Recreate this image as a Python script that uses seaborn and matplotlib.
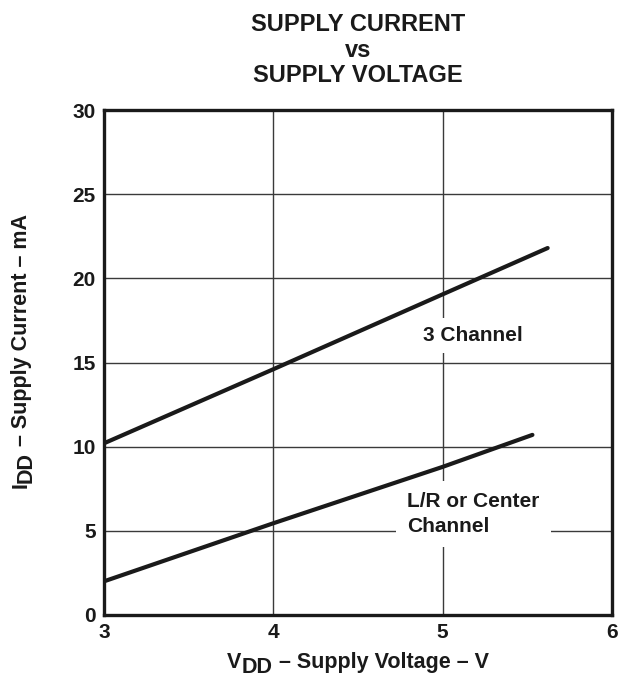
import matplotlib
matplotlib.use("Agg")
import matplotlib.pyplot as plt
from matplotlib.transforms import IdentityTransform
import pandas as pd
import seaborn as sns

# Supply current vs supply voltage for the two channel configurations
voltage_3ch = [3.0, 4.0, 5.0, 5.62]
current_3ch = [10.2, 14.6, 19.05, 21.8]
voltage_lr = [3.0, 4.0, 5.0, 5.53]
current_lr = [2.0, 5.45, 8.8, 10.7]

x_ticks = [3, 4, 5, 6]
y_ticks = [0, 5, 10, 15, 20, 25, 30]

INK = "#1a1a1a"

sns.set_theme(style="white")
plt.rcParams["font.family"] = ["Liberation Sans", "DejaVu Sans"]
plt.rcParams["font.weight"] = "bold"

df = pd.concat([
    pd.DataFrame({"V": voltage_3ch, "I": current_3ch, "config": "3 Channel"}),
    pd.DataFrame({"V": voltage_lr, "I": current_lr, "config": "L/R or Center Channel"}),
])

W, H = 621, 683
fig = plt.figure(figsize=(W / 100, H / 100), dpi=100)
ax = fig.add_axes([104 / W, 1 - 615 / H, (612 - 104) / W, (615 - 110) / H])

sns.lineplot(data=df, x="V", y="I", hue="config", palette=[INK, INK],
             linewidth=3.0, legend=False, ax=ax, zorder=4, estimator=None, sort=False)

ax.set_xlim(3, 6)
ax.set_ylim(0, 30)
ax.set_xticks(x_ticks)
ax.set_yticks(y_ticks)
ax.tick_params(axis="both", length=0, labelsize=15, pad=6, colors=INK)
for lbl in ax.get_xticklabels() + ax.get_yticklabels():
    lbl.set_fontweight("bold")
ax.set_xlabel("")
ax.set_ylabel("")

ax.grid(True, color="#3a3a3a", linewidth=1.0)
ax.set_axisbelow(True)
for s in ax.spines.values():
    s.set_visible(True)
    s.set_color(INK)
    s.set_linewidth(2.4)

ax.set_title("SUPPLY CURRENT\nvs\nSUPPLY VOLTAGE", fontsize=17, fontweight="bold",
             color=INK, linespacing=1.15, pad=20)

box = dict(facecolor="white", edgecolor="none", pad=6)
ax.text(5.18, 16.6, "3 Channel", fontsize=15, fontweight="bold", color=INK,
        ha="center", va="center", bbox=box, zorder=3)
ax.text(4.79, 6.0, "L/R or Center\nChannel", fontsize=15, fontweight="bold",
        color=INK, ha="left", va="center", linespacing=1.35,
        bbox=dict(facecolor="white", edgecolor="none", pad=8), zorder=3)


def subscript_label(pieces, center, baseline, vertical=False, size=15.5, drop=5):
    """Draw a label made of (text, is_subscript) pieces, centred along its run."""
    renderer = fig.canvas.get_renderer()
    widths = []
    for s, _ in pieces:
        t = fig.text(0, 0, s, fontsize=size, fontweight="bold")
        widths.append(t.get_window_extent(renderer).width)
        t.remove()
    pos = center - sum(widths) / 2
    for (s, sub), w in zip(pieces, widths):
        off = drop if sub else 0
        if vertical:
            xy = (baseline + off, pos)
        else:
            xy = (pos, baseline - off)
        fig.text(xy[0], xy[1], s, fontsize=size, fontweight="bold", color=INK,
                 ha="left", va="baseline", rotation=90 if vertical else 0,
                 rotation_mode="anchor", transform=IdentityTransform())
        pos += w


subscript_label([("V", False), ("DD", True), (" – Supply Voltage – V", False)],
                center=358, baseline=H - 668)
subscript_label([("I", False), ("DD", True), (" – Supply Current – mA", False)],
                center=H - 351, baseline=27, vertical=True)

fig.savefig("out.png", dpi=100)
